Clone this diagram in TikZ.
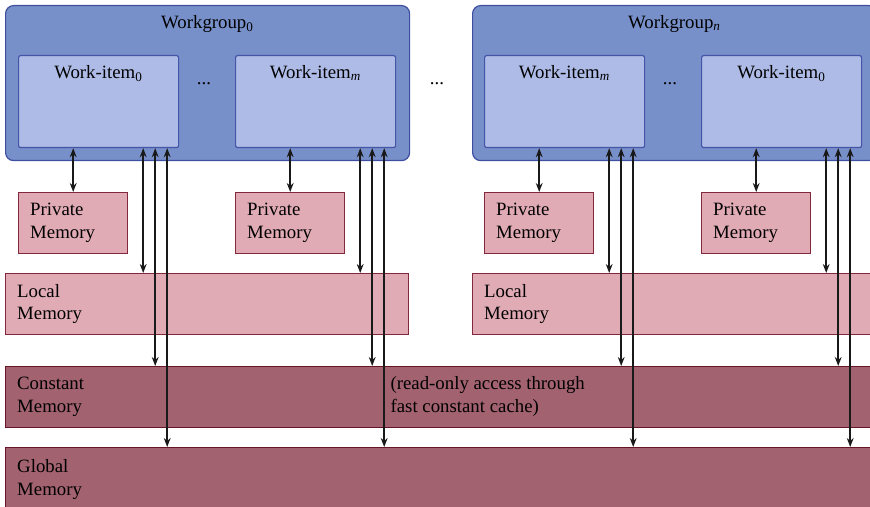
\documentclass[tikz,border=0pt]{standalone}
\usepackage{fontspec}
\setmainfont{Liberation Serif}
\usetikzlibrary{calc,arrows.meta}

\definecolor{wgfill}{RGB}{120,144,201}
\definecolor{wgline}{RGB}{62,78,160}
\definecolor{wifill}{RGB}{173,187,230}
\definecolor{wiline}{RGB}{70,84,168}
\definecolor{pmfill}{RGB}{224,171,181}
\definecolor{pmline}{RGB}{130,40,58}
\definecolor{gmfill}{RGB}{162,98,111}
\definecolor{gmline}{RGB}{105,20,38}

\begin{document}
\begin{tikzpicture}[x=0.5pt, y=-0.5pt, font=\fontsize{9.4}{11.3}\selectfont,
  line width=0.6pt, >={Stealth[length=4.5pt,width=3.4pt]},
  wgbox/.style={draw=wgline, fill=wgfill, rounded corners=4pt, anchor=north west,
    minimum width=202pt, minimum height=77.5pt, inner sep=0pt},
  wibox/.style={draw=wiline, fill=wifill, rounded corners=1pt, anchor=north west,
    minimum width=80pt, minimum height=46pt, inner sep=0pt},
  membox/.style={draw=pmline, fill=pmfill, anchor=north west, align=left,
    inner xsep=5.8pt, inner ysep=0pt, minimum height=30.5pt},
  bigmem/.style={membox, draw=gmline, fill=gmfill},
  toplabel/.style={label={[anchor=north, yshift=-1.6pt]north:#1}},
  access/.style={<->, line width=0.75pt, black!90}]

\clip (0,0) rectangle (870,507);

% --- grupos de trabajo ---
\node[wgbox, toplabel=Workgroup\textsubscript{0}] (wg1) at (5,5) {};
\node[wgbox, toplabel=Workgroup\textsubscript{\textit{n}}] (wg2) at (472,5) {};

\node[wibox, toplabel=Work-item\textsubscript{0}] (wi1) at (18,55) {};
\node[wibox, toplabel=Work-item\textsubscript{\textit{m}}] (wi2) at (235,55) {};
\node[wibox, toplabel=Work-item\textsubscript{\textit{m}}] (wi3) at (484,55) {};
\node[wibox, toplabel=Work-item\textsubscript{0}] (wi4) at (701,55) {};

\node[anchor=base] (dots1) at (204,85) {...};
\node[anchor=base] (dots2) at (670,85) {...};
\node[anchor=base] (dots3) at (437,85) {...};

% --- memorias ---
\foreach \i/\x in {1/18,2/235,3/484,4/701}
  \node[membox, text width=43pt] (pm\i) at (\x,192) {Private\\Memory};

\node[membox, text width=190pt] (lm1) at (5,273) {Local\\Memory};
\node[membox, text width=190pt] (lm2) at (472,273) {Local\\Memory};

\node[bigmem, text width=430pt] (cm) at (5,366) {Constant\\Memory};
\node[anchor=west, align=left, inner xsep=0pt] (ro) at (390,396.5)
  {(read-only access through\\fast constant cache)};

\node[bigmem, text width=430pt, minimum height=32pt] (gm) at (5,447) {Global\\Memory};

% --- accesos ---
\foreach \i/\l in {1/1,2/1,3/2,4/2} {
  \draw[access] (pm\i.north |- wi\i.south) -- (pm\i.north);
  \coordinate (a\i) at ($(wi\i.south east)+(-36,0)$);
  \coordinate (b\i) at ($(wi\i.south east)+(-24,0)$);
  \coordinate (c\i) at ($(wi\i.south east)+(-12,0)$);
  \draw[access] (a\i) -- (a\i |- lm\l.north);
  \draw[access] (b\i) -- (b\i |- cm.north);
  \draw[access] (c\i) -- (c\i |- gm.north);
}

\end{tikzpicture}
\end{document}
